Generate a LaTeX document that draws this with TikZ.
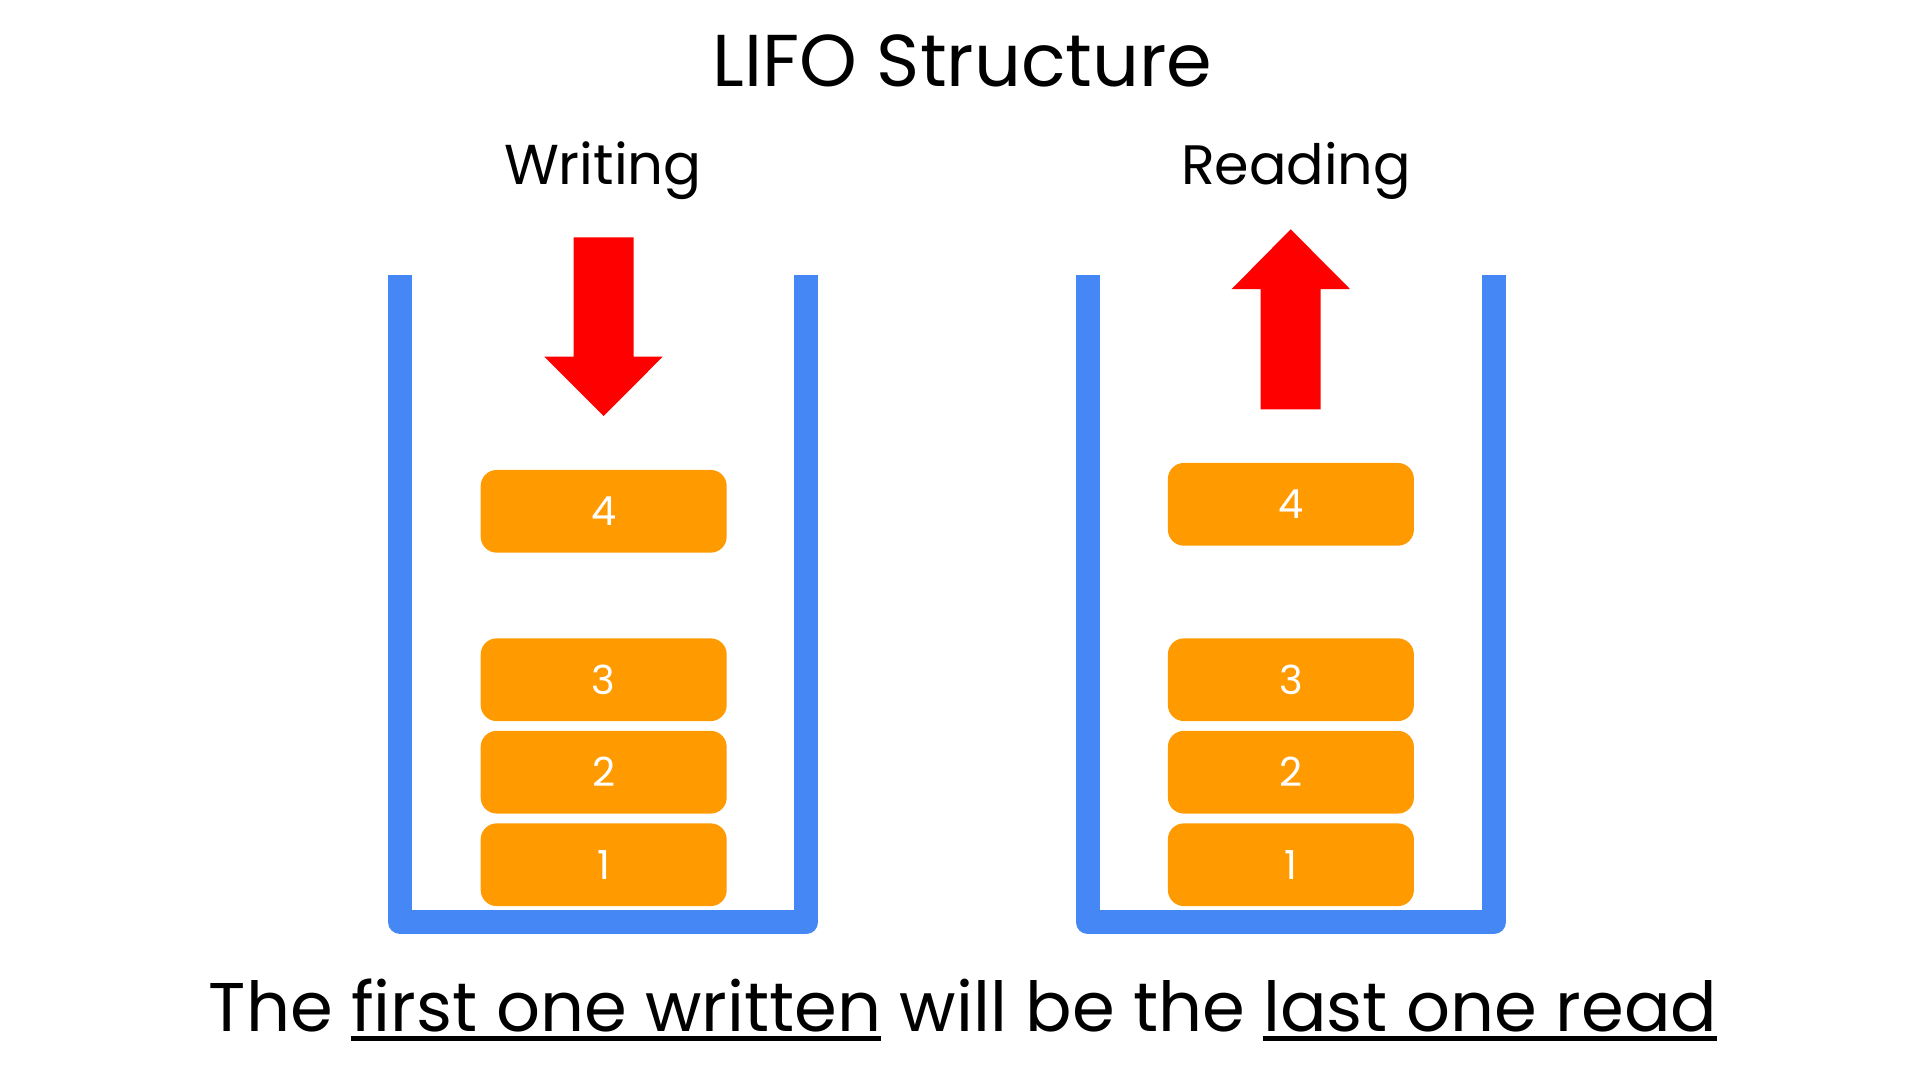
\documentclass[tikz,border=0pt]{standalone}
\usepackage{fontspec}
\setmainfont{Poppins}
\usepackage{xcolor}
\usetikzlibrary{positioning}
\definecolor{binblue}{HTML}{4587F4}
\definecolor{itemorange}{HTML}{FF9A00}
\definecolor{arrowred}{HTML}{FF0000}
\newcommand{\ulword}[1]{\setbox0\hbox{#1}\rlap{\rule[-2.9pt]{\wd0}{1.42pt}}\box0\relax}

\begin{document}
\begin{tikzpicture}[
	x=0.1mm, y=-0.1mm,
	node distance=0.84mm,
	item/.style = {shape=rectangle, rounded corners=1.6mm,
	fill=itemorange, text=white, font=\fontsize{11.4}{12}\selectfont,
	minimum width=24.6mm, minimum height=8.27mm, inner sep=0pt},
	bin/.style = {draw=binblue, line width=2.4mm, line join=round},
	label/.style = {anchor=base, inner sep=0pt}
]
\fill[white] (0,0) rectangle (1914,1080);
\useasboundingbox (0,0) rectangle (1914,1080);

% titles
\node[label, font=\fontsize{20.9}{24}\selectfont] (title) at (962.6,86) {LIFO Structure};
\node[label, font=\fontsize{16}{19}\selectfont] (wtitle) at (603,184) {Writing};
\node[label, font=\fontsize{15.8}{19}\selectfont] (rtitle) at (1296,184) {Reading};

% writing stack
\draw[bin] (400.3,275) -- (400.3,922.2) -- (806.3,922.2) -- (806.3,275);
\node[item] (w1) at (603.7,864.7) {1};
\node[item, above=of w1] (w2) {2};
\node[item, above=of w2] (w3) {3};
\node[item] (w4) at (603.7,511.3) {4};
\fill[arrowred] (573.7,237.3) -- (633.7,237.3) -- (633.7,356.7) -- (662.7,356.7)
	-- (603.7,416) -- (544.3,356.7) -- (573.7,356.7) -- cycle;

% reading stack
\draw[bin] (1087.7,275) -- (1087.7,922.2) -- (1493.7,922.2) -- (1493.7,275);
\node[item] (r1) at (1290.9,864.7) {1};
\node[item, above=of r1] (r2) {2};
\node[item, above=of r2] (r3) {3};
\node[item] (r4) at (1290.9,504.3) {4};
\fill[arrowred] (1260.7,409.3) -- (1320.7,409.3) -- (1320.7,289) -- (1350,289)
	-- (1290.7,229.3) -- (1231.7,289) -- (1260.7,289) -- cycle;

% bottom line
\node[label, font=\fontsize{19.6}{23}\selectfont] (rule) at (963,1031)
	{The \ulword{first one written} will be the \ulword{last one read}};
\end{tikzpicture}
\end{document}
